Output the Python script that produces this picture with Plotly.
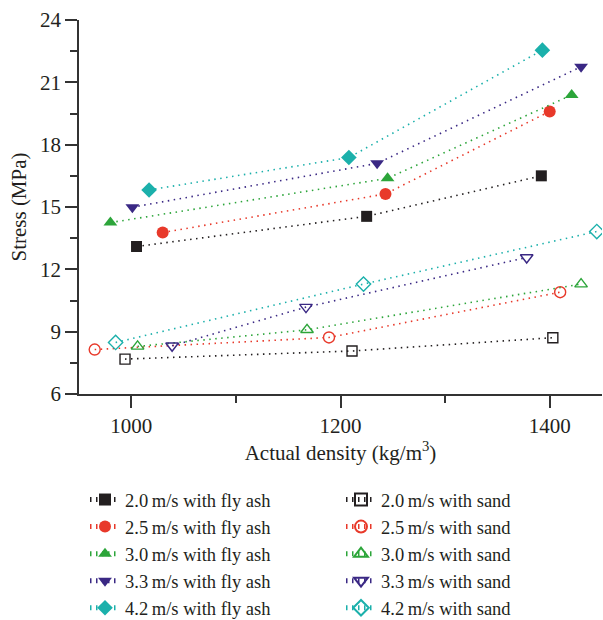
import plotly.graph_objects as go

speeds = ["2.0", "2.5", "3.0", "3.3", "4.2"]
colors = ["#231f20", "#e8392a", "#2ca53a", "#3a2884", "#1bb0ab"]
symbols = ["square", "circle", "triangle-up", "triangle-down", "diamond"]

# fly ash series: density, stress
fly_x = [
    [1005, 1225, 1392],
    [1030, 1243, 1400],
    [980, 1245, 1421],
    [1001, 1235, 1430],
    [1017, 1208, 1393],
]
fly_y = [
    [13.1, 14.55, 16.5],
    [13.77, 15.63, 19.6],
    [14.25, 16.38, 20.39],
    [14.99, 17.1, 21.75],
    [15.82, 17.38, 22.55],
]
# sand series
sand_x = [
    [994, 1211, 1403],
    [965, 1189, 1410],
    [1006, 1168, 1430],
    [1039, 1167, 1378],
    [985, 1222, 1445],
]
sand_y = [
    [7.68, 8.07, 8.71],
    [8.14, 8.72, 10.9],
    [8.29, 9.09, 11.29],
    [8.32, 10.18, 12.57],
    [8.48, 11.29, 13.82],
]

font_family = "Liberation Serif"
fig = go.Figure()

sizes = [11, 12, 12, 12, 12]
for i in range(5):
    fig.add_trace(go.Scatter(
        x=fly_x[i], y=fly_y[i], mode="lines+markers",
        name=f"{speeds[i]}\u2009m/s with fly ash",
        line=dict(color=colors[i], width=1.6, dash="1.5px,4.5px"),
        marker=dict(symbol=symbols[i], size=sizes[i], color=colors[i],
                    line=dict(width=0)),
        legend="legend",
    ))
for i in range(5):
    fig.add_trace(go.Scatter(
        x=sand_x[i], y=sand_y[i], mode="lines+markers",
        name=f"{speeds[i]}\u2009m/s with sand",
        line=dict(color=colors[i], width=1.6, dash="1.5px,4.5px"),
        marker=dict(symbol=symbols[i] + "-open", size=sizes[i] - 1,
                    color=colors[i], line=dict(width=1.4, color=colors[i])),
        legend="legend2",
    ))

axis_common = dict(
    showline=True, linecolor="#333333", linewidth=1.5,
    ticks="outside", ticklen=12, tickwidth=1.5, tickcolor="#333333",
    showgrid=False, zeroline=False, automargin=False,
    tickfont=dict(family=font_family, size=21, color="#231f20"),
)

fig.update_xaxes(
    range=[950, 1450], tick0=1000, dtick=200,
    minor=dict(dtick=100, tick0=1000, ticks="outside", ticklen=7, tickwidth=1.5, tickcolor="#333333"),
    title=dict(text="Actual density (kg/m<sup>3</sup>)", font=dict(family=font_family, size=21, color="#231f20"), standoff=6),
    **axis_common,
)
fig.update_yaxes(
    range=[6, 24], tick0=6, dtick=3,
    minor=dict(dtick=1.5, tick0=6, ticks="outside", ticklen=7, tickwidth=1.5, tickcolor="#333333"),
    title=dict(text="Stress (MPa)", font=dict(family=font_family, size=21, color="#231f20"), standoff=8),
    **axis_common,
)

# legends positioned in plot-area (paper) coordinates: plot spans y px 20..394, x px 79..602
legend_common = dict(
    font=dict(family=font_family, size=18.5, color="#231f20"),
    bgcolor="rgba(0,0,0,0)", orientation="v",
    yanchor="top", xanchor="left", y=(394 - 481) / 374,
    itemsizing="constant",
)
fig.update_layout(
    width=603, height=620,
    margin=dict(l=79, r=1, t=20, b=226, autoexpand=False),
    paper_bgcolor="white", plot_bgcolor="white",
    showlegend=True,
    legend=dict(x=(85 - 79) / 523, **legend_common),
    legend2=dict(x=(341 - 79) / 523, **legend_common),
)

fig.write_html("out.html")
